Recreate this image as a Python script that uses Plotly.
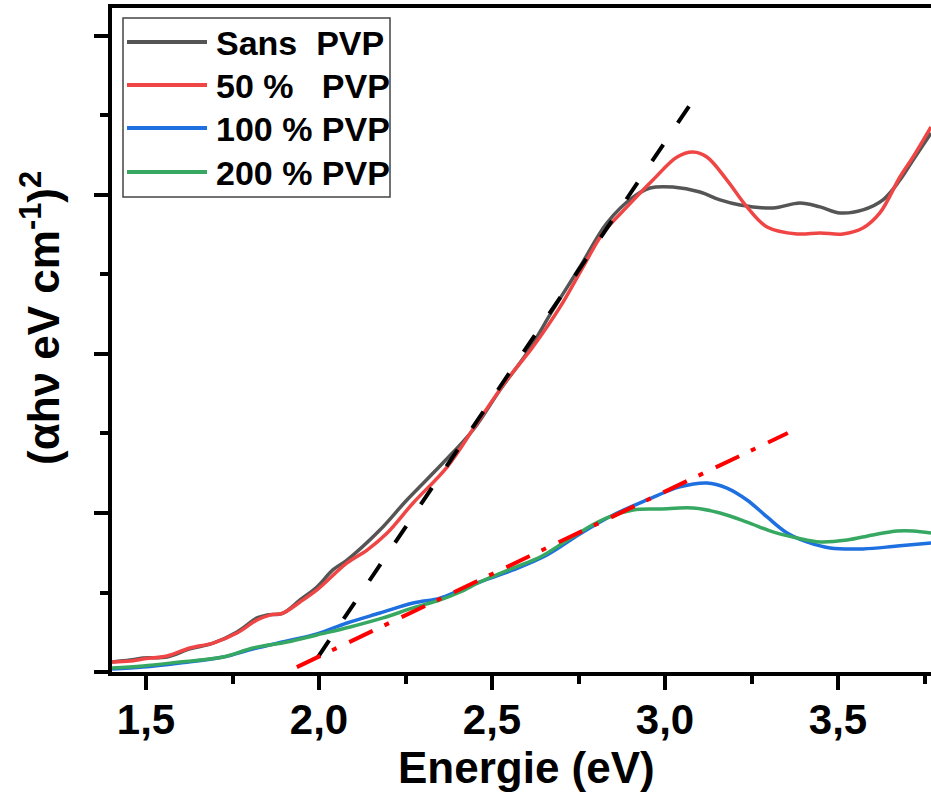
import plotly.graph_objects as go

# ---------------- data (Energie in eV, (alpha h nu)^2 in arbitrary units) ----------------
E_sans = [1.402, 1.454, 1.491, 1.561, 1.627, 1.694, 1.763, 1.821, 1.850, 1.896, 1.945, 1.994,
          2.040, 2.081, 2.176, 2.254, 2.358, 2.445, 2.523, 2.601, 2.676, 2.754, 2.832, 2.908,
          2.957, 3.023, 3.101, 3.159, 3.217, 3.312, 3.390, 3.448, 3.506, 3.572, 3.630, 3.679,
          3.717, 3.769]
Y_sans = [0.063, 0.075, 0.088, 0.094, 0.145, 0.182, 0.252, 0.340, 0.358, 0.371, 0.453, 0.535,
          0.642, 0.704, 0.893, 1.082, 1.314, 1.522, 1.774, 2.006, 2.277, 2.547, 2.824, 2.987,
          3.044, 3.050, 3.019, 2.969, 2.937, 2.918, 2.950, 2.925, 2.887, 2.906, 2.969, 3.094,
          3.220, 3.390]

E_50 = [1.402, 1.454, 1.491, 1.561, 1.627, 1.694, 1.763, 1.821, 1.858, 1.896, 1.945, 1.994,
        2.081, 2.139, 2.197, 2.272, 2.370, 2.457, 2.543, 2.618, 2.697, 2.763, 2.821, 2.890,
        2.965, 3.035, 3.081, 3.121, 3.179, 3.237, 3.295, 3.382, 3.448, 3.514, 3.572, 3.621,
        3.679, 3.717, 3.769]
Y_50 = [0.063, 0.069, 0.082, 0.101, 0.151, 0.182, 0.245, 0.327, 0.358, 0.371, 0.440, 0.516,
        0.686, 0.767, 0.874, 1.063, 1.289, 1.566, 1.836, 2.044, 2.296, 2.547, 2.761, 2.925,
        3.094, 3.239, 3.270, 3.239, 3.094, 2.925, 2.799, 2.755, 2.761, 2.755, 2.792, 2.887,
        3.113, 3.239, 3.428]

E_100 = [1.402, 1.491, 1.598, 1.723, 1.809, 1.908, 1.994, 2.081, 2.176, 2.272, 2.350, 2.408,
         2.465, 2.561, 2.659, 2.754, 2.850, 2.948, 3.043, 3.121, 3.179, 3.237, 3.295, 3.353,
         3.410, 3.477, 3.572, 3.671, 3.769]
Y_100 = [0.019, 0.031, 0.057, 0.094, 0.145, 0.195, 0.239, 0.308, 0.371, 0.434, 0.465, 0.516,
         0.566, 0.642, 0.736, 0.868, 0.987, 1.082, 1.164, 1.189, 1.157, 1.082, 0.975, 0.874,
         0.818, 0.780, 0.774, 0.792, 0.811]

E_200 = [1.402, 1.491, 1.598, 1.723, 1.809, 1.908, 1.994, 2.090, 2.185, 2.272, 2.350, 2.408,
         2.465, 2.561, 2.639, 2.705, 2.775, 2.832, 2.908, 2.986, 3.081, 3.159, 3.237, 3.312,
         3.382, 3.448, 3.526, 3.601, 3.671, 3.717, 3.769]
Y_200 = [0.025, 0.038, 0.063, 0.094, 0.151, 0.189, 0.233, 0.283, 0.340, 0.403, 0.453, 0.503,
         0.566, 0.654, 0.723, 0.811, 0.906, 0.969, 1.019, 1.025, 1.031, 1.000, 0.943, 0.881,
         0.843, 0.818, 0.830, 0.862, 0.887, 0.887, 0.874]

# tangent (Tauc) extrapolation lines
E_tan1 = [1.997, 3.072]
Y_tan1 = [0.094, 3.566]
E_tan2 = [1.936, 3.355]
Y_tan2 = [0.031, 1.503]

names = ["Sans\u00a0\u00a0PVP", "50 %\u00a0\u00a0\u00a0PVP", "100 % PVP", "200 % PVP"]
colors = ["#555555", "#F04545", "#1E6FDF", "#37A862"]

x_ticks = [1.5, 2.0, 2.5, 3.0, 3.5]

# ---------------- figure ----------------
W, H = 931, 793
L, T, R, B = 112, 8, 0, 121
FONT = "Liberation Sans, Arial, sans-serif"

def px_x(p):
    return (p - L) / (W - L - R)

def px_y(p):
    return (H - B - p) / (H - B - T)

fig = go.Figure()
series = [(E_sans, Y_sans), (E_50, Y_50), (E_100, Y_100), (E_200, Y_200)]
for (xs, ys), nm, c in zip(series, names, colors):
    fig.add_trace(go.Scatter(x=xs, y=ys, mode="lines", name=nm, showlegend=False,
                             line=dict(color=c, width=3.5, shape="spline", smoothing=1.0)))

fig.add_trace(go.Scatter(x=E_tan1, y=Y_tan1, mode="lines", showlegend=False,
                         line=dict(color="black", width=4, dash="20px,26px")))
fig.add_trace(go.Scatter(x=E_tan2, y=Y_tan2, mode="lines", showlegend=False,
                         line=dict(color="#FF0000", width=4, dash="26px,13px,5px,14px")))

axis_common = dict(showline=True, linecolor="black", linewidth=4, ticks="outside",
                   tickcolor="black", tickwidth=3.5, showgrid=False, zeroline=False)

fig.update_xaxes(range=[1.4017, 3.7688], tickvals=x_ticks, tickformat=".1f",
                 ticklen=14, mirror=True, ticklabelstandoff=-6,
                 tickfont=dict(family=FONT, size=42, color="black", weight="bold"),
                 minor=dict(dtick=0.25, tick0=0, ticklen=8, tickwidth=3.5, tickcolor="black",
                            ticks="outside", showgrid=False),
                 **axis_common)
fig.update_yaxes(range=[0, 4.176], dtick=1, tick0=0, ticklen=14, showticklabels=False,
                 mirror=False,
                 minor=dict(dtick=0.5, tick0=0, ticklen=8, tickwidth=3.5, tickcolor="black",
                            ticks="outside", showgrid=False),
                 **axis_common)

# legend drawn manually (long line samples like the original)
shapes = [dict(type="rect", xref="paper", yref="paper", x0=px_x(123), x1=px_x(390),
               y0=px_y(197), y1=px_y(18), line=dict(color="#444444", width=1.5),
               fillcolor="white", layer="above")]
annotations = []
rows = [42, 85, 128, 172]
for r, nm, c in zip(rows, names, colors):
    shapes.append(dict(type="line", xref="paper", yref="paper", x0=px_x(127), x1=px_x(207),
                       y0=px_y(r), y1=px_y(r), line=dict(color=c, width=4), layer="above"))
    annotations.append(dict(text="<b>" + nm + "</b>", xref="paper", yref="paper",
                            x=px_x(214), y=px_y(r + 1), xanchor="left", yanchor="middle",
                            showarrow=False,
                            font=dict(family=FONT, size=34, color="black")))

annotations.append(dict(text="<b>Energie (eV)</b>", xref="paper", yref="paper",
                        x=px_x(526), y=px_y(767), xanchor="center", yanchor="middle",
                        showarrow=False, font=dict(family=FONT, size=44, color="black")))
annotations.append(dict(text="<b>(αhν eV cm<sup>-1</sup>)<sup>2</sup></b>", xref="paper",
                        yref="paper", x=px_x(40), y=px_y(318), xanchor="center",
                        yanchor="middle", textangle=-90, showarrow=False,
                        font=dict(family=FONT, size=44, color="black")))

fig.update_layout(width=W, height=H, margin=dict(l=L, r=R, t=T, b=B, pad=0),
                  paper_bgcolor="white", plot_bgcolor="white", separators=", ",
                  shapes=shapes, annotations=annotations, showlegend=False)

fig.write_html("out.html")
